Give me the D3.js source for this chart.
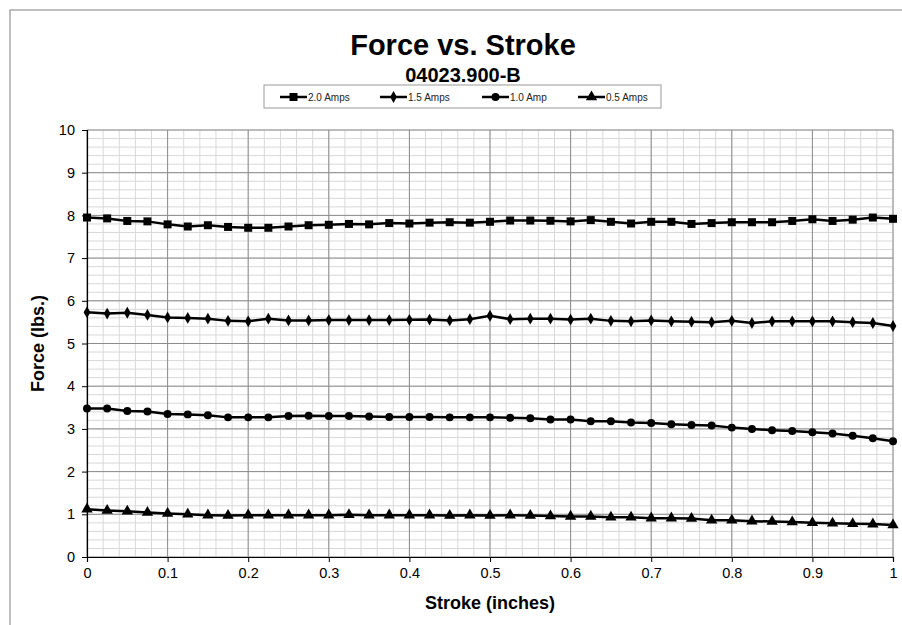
<!DOCTYPE html>
<meta charset="utf-8">
<style>
body { margin: 0; background: #fff; }
text { font-family: Arial, "Liberation Sans", sans-serif; }
</style>
<body>
<script src="https://d3js.org/d3.v7.min.js"></script>
<script>
var width = 902,
	height = 625,
	plotLeft = 87,
	plotRight = 893,
	plotTop = 130,
	plotBottom = 557;

var stroke = [0, 0.025, 0.05, 0.075, 0.1, 0.125, 0.15, 0.175, 0.2, 0.225,
	0.25, 0.275, 0.3, 0.325, 0.35, 0.375, 0.4, 0.425, 0.45, 0.475,
	0.5, 0.525, 0.55, 0.575, 0.6, 0.625, 0.65, 0.675, 0.7, 0.725,
	0.75, 0.775, 0.8, 0.825, 0.85, 0.875, 0.9, 0.925, 0.95, 0.975, 1];

var amps20 = [7.95, 7.93, 7.87, 7.86, 7.79, 7.74, 7.77, 7.73, 7.71, 7.71,
	7.74, 7.77, 7.78, 7.80, 7.79, 7.82, 7.81, 7.83, 7.84, 7.83,
	7.85, 7.88, 7.88, 7.875, 7.86, 7.89, 7.85, 7.81, 7.85, 7.85,
	7.80, 7.82, 7.84, 7.84, 7.84, 7.87, 7.91, 7.87, 7.90, 7.95, 7.92];

var amps15 = [5.73, 5.70, 5.72, 5.67, 5.61, 5.60, 5.58, 5.53, 5.52, 5.58,
	5.54, 5.54, 5.55, 5.55, 5.55, 5.55, 5.555, 5.56, 5.54, 5.57,
	5.65, 5.57, 5.58, 5.58, 5.56, 5.58, 5.53, 5.52, 5.54, 5.52,
	5.51, 5.50, 5.53, 5.48, 5.52, 5.52, 5.52, 5.52, 5.50, 5.48, 5.41];

var amps10 = [3.48, 3.48, 3.42, 3.41, 3.35, 3.34, 3.32, 3.27, 3.27, 3.27,
	3.30, 3.31, 3.30, 3.30, 3.29, 3.28, 3.28, 3.28, 3.27, 3.27,
	3.27, 3.26, 3.25, 3.22, 3.22, 3.18, 3.18, 3.15, 3.14, 3.11,
	3.09, 3.08, 3.03, 3.00, 2.97, 2.95, 2.92, 2.89, 2.84, 2.78, 2.71];

var amps05 = [1.12, 1.09, 1.07, 1.04, 1.02, 1.00, 0.98, 0.97, 0.98, 0.98,
	0.98, 0.98, 0.98, 0.99, 0.98, 0.98, 0.98, 0.98, 0.97, 0.98,
	0.97, 0.98, 0.97, 0.96, 0.95, 0.95, 0.93, 0.93, 0.91, 0.91,
	0.90, 0.86, 0.86, 0.84, 0.83, 0.82, 0.80, 0.79, 0.78, 0.77, 0.75];

var seriesNames = ["2.0 Amps", "1.5 Amps", "1.0 Amp", "0.5 Amps"];
var seriesValues = [amps20, amps15, amps10, amps05];
var markerTypes = [d3.symbolSquare, d3.symbolDiamond, d3.symbolCircle, d3.symbolTriangle];
var markerSizes = [64, 40, 50, 56];

var xTicks = [0, 0.1, 0.2, 0.3, 0.4, 0.5, 0.6, 0.7, 0.8, 0.9, 1];
var yTicks = [0, 1, 2, 3, 4, 5, 6, 7, 8, 9, 10];

var svg = d3.select("body").append("svg")
	.attr("width", width)
	.attr("height", height);

// outer chart frame
svg.append("path")
	.attr("d", "M10," + height + "V10H" + width)
	.style("fill", "none")
	.style("stroke", "#aaa")
	.style("stroke-width", 1.5);

var x = d3.scaleLinear().domain([0, 1]).range([plotLeft, plotRight]);
var y = d3.scaleLinear().domain([0, 10]).range([plotBottom, plotTop]);

// minor grid
var grid = svg.append("g");
grid.selectAll(".mx")
	.data(d3.range(0, 51).map(function(i) { return i / 50; }))
	.enter().append("line")
	.attr("x1", function(d) { return x(d); })
	.attr("x2", function(d) { return x(d); })
	.attr("y1", plotTop).attr("y2", plotBottom)
	.style("stroke", "#d8d8d8");
grid.selectAll(".my")
	.data(d3.range(0, 51).map(function(i) { return i / 5; }))
	.enter().append("line")
	.attr("y1", function(d) { return y(d); })
	.attr("y2", function(d) { return y(d); })
	.attr("x1", plotLeft).attr("x2", plotRight)
	.style("stroke", "#d8d8d8");

// major grid
grid.selectAll(".gx")
	.data(xTicks)
	.enter().append("line")
	.attr("x1", function(d) { return x(d); })
	.attr("x2", function(d) { return x(d); })
	.attr("y1", plotTop).attr("y2", plotBottom)
	.style("stroke", "#8c8c8c");
grid.selectAll(".gy")
	.data(yTicks)
	.enter().append("line")
	.attr("y1", function(d) { return y(d); })
	.attr("y2", function(d) { return y(d); })
	.attr("x1", plotLeft).attr("x2", plotRight)
	.style("stroke", "#8c8c8c");

// axes
var xAxis = svg.append("g")
	.attr("transform", "translate(0," + plotBottom + ")")
	.call(d3.axisBottom(x).tickValues(xTicks).tickSize(5).tickPadding(6)
		.tickFormat(function(d) { return String(+d.toFixed(1)); }));
var yAxis = svg.append("g")
	.attr("transform", "translate(" + plotLeft + ",0)")
	.call(d3.axisLeft(y).tickValues(yTicks).tickSize(5).tickPadding(7));

[xAxis, yAxis].forEach(function(ax) {
	ax.select(".domain").style("stroke", "#000").style("stroke-width", 1.2);
	ax.selectAll(".tick line").style("stroke", "#000");
	ax.selectAll(".tick text")
		.style("font-family", "Arial, 'Liberation Sans', sans-serif")
		.style("font-size", "14.5px")
		.style("fill", "#000");
});

// series
var line = d3.line()
	.x(function(d, i) { return x(stroke[i]); })
	.y(function(d) { return y(d); });

seriesValues.forEach(function(vals, k) {
	var g = svg.append("g");
	g.append("path")
		.datum(vals)
		.attr("d", line)
		.style("fill", "none")
		.style("stroke", "#000")
		.style("stroke-width", 2.5);
	g.selectAll("path.m")
		.data(vals)
		.enter().append("path")
		.attr("class", "m")
		.attr("transform", function(d, i) { return "translate(" + x(stroke[i]) + "," + y(d) + ")"; })
		.attr("d", d3.symbol().type(markerTypes[k]).size(markerSizes[k]))
		.style("fill", "#000");
});

// titles
svg.append("text")
	.attr("x", 463).attr("y", 55)
	.attr("text-anchor", "middle")
	.style("font-size", "29px")
	.style("font-weight", "bold")
	.text("Force vs. Stroke");
svg.append("text")
	.attr("x", 463).attr("y", 82)
	.attr("text-anchor", "middle")
	.style("font-size", "20px")
	.style("font-weight", "bold")
	.text("04023.900-B");

svg.append("text")
	.attr("x", (plotLeft + plotRight) / 2).attr("y", 609)
	.attr("text-anchor", "middle")
	.style("font-size", "18px")
	.style("font-weight", "bold")
	.text("Stroke (inches)");
svg.append("text")
	.attr("transform", "translate(44," + (plotTop + plotBottom) / 2 + ")rotate(-90)")
	.attr("text-anchor", "middle")
	.style("font-size", "18px")
	.style("font-weight", "bold")
	.text("Force (lbs.)");

// legend
var legend = svg.append("g");
legend.append("rect")
	.attr("x", 264).attr("y", 85)
	.attr("width", 397).attr("height", 23)
	.style("fill", "#fff")
	.style("stroke", "#999");
var legendX = [280, 380, 482, 578];
seriesNames.forEach(function(name, k) {
	var lg = legend.append("g").attr("transform", "translate(" + legendX[k] + ",97)");
	lg.append("line")
		.attr("x1", 0).attr("x2", 27)
		.style("stroke", "#000")
		.style("stroke-width", 2.5);
	lg.append("path")
		.attr("transform", "translate(13.5,0)")
		.attr("d", d3.symbol().type(markerTypes[k]).size(markerSizes[k]))
		.style("fill", "#000");
	lg.append("text")
		.attr("x", 28).attr("y", 3.5)
		.style("font-size", "10px")
		.style("fill", "#222")
		.text(name);
});
</script>
</body>
